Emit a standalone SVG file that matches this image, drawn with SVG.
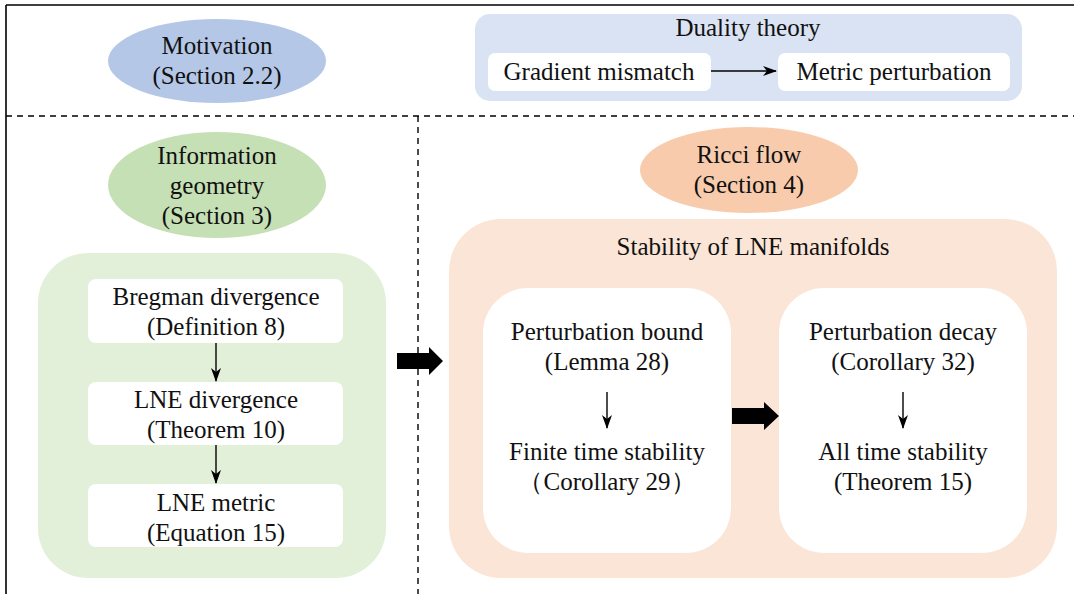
<svg xmlns="http://www.w3.org/2000/svg" width="1074" height="594" viewBox="0 0 1074 594">
  <style>
    text { font-family: "Liberation Serif", "Times New Roman", serif; font-size: 25px; fill: #111; text-anchor: middle; }
    .frame { stroke: #000; stroke-width: 1.6; fill: none; }
    .dash { stroke: #000; stroke-width: 1.4; stroke-dasharray: 6 5; fill: none; }
    .card { fill: #fff; }
    .thin { stroke: #000; stroke-width: 1.4; fill: none; marker-end: url(#tip); }
    .bold { fill: #000; }
  </style>
  <defs>
    <marker id="tip" viewBox="0 0 14 10" refX="13" refY="5" markerWidth="14" markerHeight="10" markerUnits="userSpaceOnUse" orient="auto">
      <path d="M0,0 L14,5 L0,10 L4,5 Z" fill="#000"/>
    </marker>
  </defs>

  <!-- outer frame and section dividers -->
  <g id="frame">
    <line class="frame" x1="6" y1="5" x2="1074" y2="5"/>
    <line class="frame" x1="6" y1="5" x2="6" y2="594"/>
    <line class="dash" x1="6" y1="116" x2="1074" y2="116"/>
    <line class="dash" x1="418" y1="116" x2="418" y2="594"/>
  </g>

  <!-- top row -->
  <g id="motivation">
    <ellipse cx="217" cy="61" rx="109" ry="42" fill="#b4c7e7"/>
    <text x="217" y="54">Motivation</text>
    <text x="217" y="84">(Section 2.2)</text>
  </g>

  <g id="duality">
    <rect x="475" y="14" width="547" height="87" rx="15" fill="#dae3f3"/>
    <text x="748" y="36">Duality theory</text>
  </g>
  <g id="gradient-mismatch">
    <rect class="card" x="488" y="53" width="223" height="38" rx="7"/>
    <text x="599" y="80">Gradient mismatch</text>
  </g>
  <g id="metric-perturbation">
    <rect class="card" x="778" y="53" width="232" height="38" rx="7"/>
    <text x="894" y="80">Metric perturbation</text>
  </g>

  <!-- information geometry column -->
  <g id="info-geometry">
    <ellipse cx="217" cy="185" rx="109" ry="53" fill="#c5e0b4"/>
    <text x="217" y="164">Information</text>
    <text x="217" y="194">geometry</text>
    <text x="217" y="224">(Section 3)</text>
  </g>
  <g id="info-panel">
    <rect x="38" y="253" width="348" height="325" rx="50" fill="#e2f0d9"/>
  </g>
  <g id="bregman">
    <rect class="card" x="88" y="279" width="255" height="64" rx="8"/>
    <text x="216" y="305">Bregman divergence</text>
    <text x="216" y="335">(Definition 8)</text>
  </g>
  <g id="lne-divergence">
    <rect class="card" x="88" y="382" width="255" height="63" rx="8"/>
    <text x="216" y="408">LNE divergence</text>
    <text x="216" y="438">(Theorem 10)</text>
  </g>
  <g id="lne-metric">
    <rect class="card" x="88" y="484" width="255" height="63" rx="8"/>
    <text x="216" y="511">LNE metric</text>
    <text x="216" y="541">(Equation 15)</text>
  </g>

  <!-- Ricci flow column -->
  <g id="ricci-flow">
    <ellipse cx="749" cy="170" rx="109" ry="43" fill="#f8cbad"/>
    <text x="749" y="163">Ricci flow</text>
    <text x="749" y="193">(Section 4)</text>
  </g>
  <g id="stability-panel">
    <rect x="449" y="219" width="608" height="359" rx="52" fill="#fbe5d6"/>
    <text x="753" y="255">Stability of LNE manifolds</text>
  </g>
  <g id="finite-time">
    <rect class="card" x="483" y="288" width="248" height="265" rx="45"/>
    <text x="607" y="340">Perturbation bound</text>
    <text x="607" y="370">(Lemma 28)</text>
    <text x="607" y="460">Finite time stability</text>
    <text x="607" y="490">（Corollary 29）</text>
  </g>
  <g id="all-time">
    <rect class="card" x="779" y="288" width="248" height="265" rx="45"/>
    <text x="903" y="340">Perturbation decay</text>
    <text x="903" y="370">(Corollary 32)</text>
    <text x="903" y="460">All time stability</text>
    <text x="903" y="490">(Theorem 15)</text>
  </g>

  <!-- connectors -->
  <g id="connectors">
    <line class="thin" x1="711" y1="71" x2="776" y2="71"/>
    <line class="thin" x1="216" y1="343" x2="216" y2="381"/>
    <line class="thin" x1="216" y1="445" x2="216" y2="483"/>
    <line class="thin" x1="607" y1="392" x2="607" y2="428"/>
    <line class="thin" x1="903" y1="392" x2="903" y2="428"/>
    <polygon class="bold" points="397,353 429,353 429,347 443,361 429,375 429,369 397,369"/>
    <polygon class="bold" points="732,408 764,408 764,402 779,416 764,430 764,424 732,424"/>
  </g>
</svg>
